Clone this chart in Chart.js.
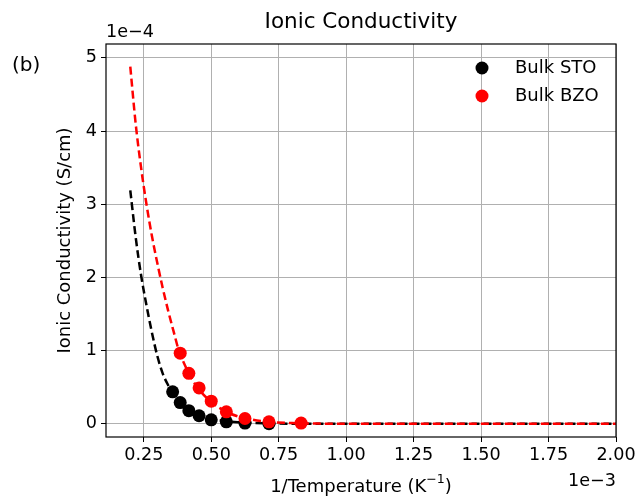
<!DOCTYPE html>
<html>
<head>
<meta charset="utf-8">
<script src="https://cdn.jsdelivr.net/npm/chart.js@4.4.0/dist/chart.umd.min.js"></script>
<style>
  html, body { margin: 0; padding: 0; background: #fff; }
  #wrap { width: 640px; height: 497px; }
</style>
</head>
<body>
<div id="wrap"><canvas id="condChart" width="640" height="497"></canvas></div>
<script>
// 1/T in units of 1e-3 K^-1, conductivity in units of 1e-4 S/cm
const stoX = [0.357, 0.385, 0.417, 0.455, 0.500, 0.556, 0.625, 0.714];
const stoY = [0.437, 0.29, 0.18, 0.11, 0.055, 0.027, 0.010, 0.002];
const bzoX = [0.385, 0.417, 0.455, 0.500, 0.556, 0.625, 0.714, 0.833];
const bzoY = [0.966, 0.69, 0.49, 0.31, 0.164, 0.073, 0.027, 0.010];

// fitted curves (dashed)
const fitX = [0.20, 0.22, 0.24, 0.26, 0.28, 0.30, 0.32, 0.34, 0.36, 0.38, 0.40, 0.42, 0.45, 0.50, 0.55, 0.60, 0.65, 0.70, 0.80, 0.90, 1.00, 1.25, 1.50, 1.75, 2.00];
const stoFit = [3.19, 2.55, 2.03, 1.62, 1.25, 0.93, 0.69, 0.53, 0.41, 0.32, 0.25, 0.20, 0.135, 0.072, 0.040, 0.022, 0.012, 0.006, 0.002, 0.001, 0, 0, 0, 0, 0];
const bzoFit = [4.88, 4.10, 3.50, 3.00, 2.57, 2.20, 1.86, 1.55, 1.27, 1.00, 0.82, 0.67, 0.49, 0.30, 0.175, 0.10, 0.058, 0.032, 0.010, 0.003, 0.001, 0, 0, 0, 0];

const xTicks = [0.25, 0.50, 0.75, 1.00, 1.25, 1.50, 1.75, 2.00];
const yTicks = [0, 1, 2, 3, 4, 5];

const FONT = 'DejaVu Sans';
const pts = (xs, ys) => xs.map((x, i) => ({ x: x, y: ys[i] }));

// frame, legend and extra labels drawn the matplotlib way
const decorations = {
    id: 'decorations',
    afterDraw(chart) {
        const { ctx, chartArea: a } = chart;
        const cx = (a.left + a.right) / 2;
        ctx.save();
        ctx.strokeStyle = '#000';
        ctx.lineWidth = 1.2;
        ctx.strokeRect(a.left, a.top, a.right - a.left, a.bottom - a.top);

        ctx.fillStyle = '#000';
        ctx.textBaseline = 'middle';
        ctx.font = '21.5px ' + FONT;
        ctx.textAlign = 'center';
        ctx.fillText('Ionic Conductivity', cx, 22);
        ctx.font = '20px ' + FONT;
        ctx.textAlign = 'left';
        ctx.fillText('(b)', 12, 66);

        ctx.font = '17.6px ' + FONT;
        ctx.fillText('1e\u22124', a.left, 32);
        ctx.textAlign = 'right';
        ctx.fillText('1e\u22123', a.right, 481);

        // x axis title with a raised exponent
        ctx.font = '18px ' + FONT;
        const base = '1/Temperature (K';
        const sup = '\u22121';
        const tail = ')';
        ctx.font = '18px ' + FONT;
        const wBase = ctx.measureText(base).width;
        const wTail = ctx.measureText(tail).width;
        ctx.font = '12.6px ' + FONT;
        const wSup = ctx.measureText(sup).width;
        let x0 = cx - (wBase + wSup + wTail) / 2;
        ctx.textAlign = 'left';
        ctx.font = '18px ' + FONT;
        ctx.fillText(base, x0, 487);
        ctx.font = '12.6px ' + FONT;
        ctx.fillText(sup, x0 + wBase, 480);
        ctx.font = '18px ' + FONT;
        ctx.fillText(tail, x0 + wBase + wSup, 487);

        ctx.save();
        ctx.translate(65, (a.top + a.bottom) / 2);
        ctx.rotate(-Math.PI / 2);
        ctx.textAlign = 'center';
        ctx.fillText('Ionic Conductivity (S/cm)', 0, 0);
        ctx.restore();

        // legend
        const entries = chart.data.datasets.filter(d => d.showInLegend);
        entries.forEach((d, i) => {
            const y = 68 + i * 28;
            ctx.beginPath();
            ctx.arc(482, y, 6.5, 0, Math.PI * 2);
            ctx.fillStyle = d.backgroundColor;
            ctx.fill();
            ctx.fillStyle = '#000';
            ctx.textAlign = 'left';
            ctx.fillText(d.label, 515, y);
        });
        ctx.restore();
    }
};

const ctx = document.getElementById('condChart').getContext('2d');
new Chart(ctx, {
    type: 'scatter',
    data: {
        datasets: [
            {
                label: 'Bulk STO',
                showInLegend: true,
                data: pts(stoX, stoY),
                backgroundColor: '#000000',
                borderColor: '#000000',
                pointRadius: 6.5,
                pointBorderWidth: 0,
                showLine: false,
                order: 1
            },
            {
                label: 'Bulk BZO',
                showInLegend: true,
                data: pts(bzoX, bzoY),
                backgroundColor: '#ff0000',
                borderColor: '#ff0000',
                pointRadius: 6.5,
                pointBorderWidth: 0,
                showLine: false,
                order: 0
            },
            {
                label: 'STO fit',
                data: pts(fitX, stoFit),
                borderColor: '#000000',
                borderWidth: 2.5,
                borderDash: [8, 4],
                pointRadius: 0,
                showLine: true,
                cubicInterpolationMode: 'monotone',
                order: 3
            },
            {
                label: 'BZO fit',
                data: pts(fitX, bzoFit),
                borderColor: '#ff0000',
                borderWidth: 2.5,
                borderDash: [8, 4],
                pointRadius: 0,
                showLine: true,
                cubicInterpolationMode: 'monotone',
                order: 2
            }
        ]
    },
    options: {
        responsive: false,
        animation: false,
        devicePixelRatio: 1,
        layout: { padding: { left: 0, right: 24, top: 44, bottom: 0 } },
        plugins: {
            legend: { display: false },
            tooltip: { enabled: false }
        },
        scales: {
            x: {
                type: 'linear',
                min: 0.11,
                max: 2.0,
                afterBuildTicks: (scale) => { scale.ticks = xTicks.map(v => ({ value: v })); },
                afterFit: (scale) => { scale.height = 60; },
                grid: { color: '#b0b0b0', tickColor: '#000', tickLength: 5, lineWidth: 1 },
                border: { display: false },
                ticks: {
                    color: '#000',
                    font: { family: FONT, size: 17.6 },
                    padding: 3,
                    maxRotation: 0,
                    callback: (v) => v.toFixed(2)
                }
            },
            y: {
                type: 'linear',
                min: -0.18,
                max: 5.19,
                afterBuildTicks: (scale) => { scale.ticks = yTicks.map(v => ({ value: v })); },
                afterFit: (scale) => { scale.width = 106; },
                grid: { color: '#b0b0b0', tickColor: '#000', tickLength: 5, lineWidth: 1 },
                border: { display: false },
                ticks: {
                    color: '#000',
                    font: { family: FONT, size: 17.6 },
                    padding: 4,
                    callback: (v) => String(v)
                }
            }
        }
    },
    plugins: [decorations]
});
</script>
</body>
</html>
